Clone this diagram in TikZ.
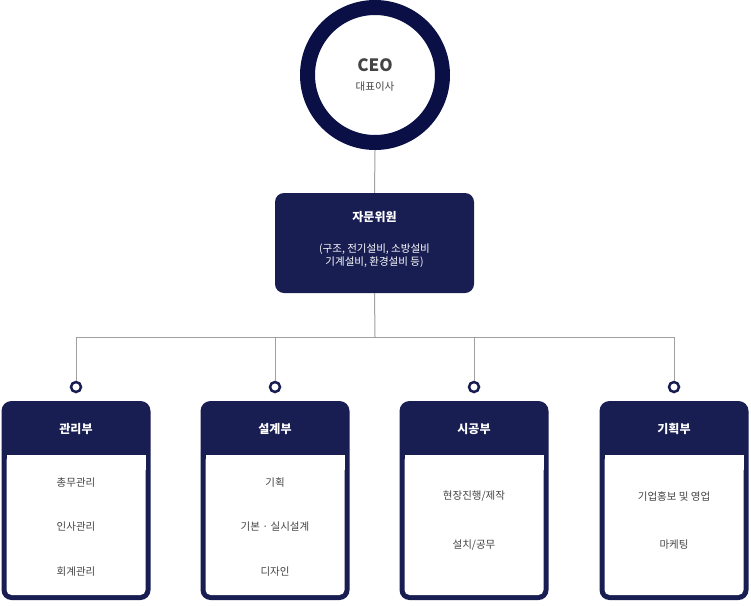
\documentclass[tikz,border=0pt]{standalone}
\usepackage{fontspec}
\setmainfont{Noto Sans CJK KR}
\usetikzlibrary{positioning}
\definecolor{navy}{RGB}{24,29,82}
\definecolor{ringblue}{RGB}{10,15,70}
\definecolor{txtgray}{RGB}{68,68,68}
\definecolor{linegray}{RGB}{160,160,160}
\tikzset{
  conn/.style={draw=linegray, line width=1pt},
  dot/.style={circle, draw=navy, fill=white, line width=2.5pt, minimum size=10pt, inner sep=0pt},
  item/.style={text=txtgray, font=\fontsize{10.5}{12}\selectfont},
  head/.style={text=white, font=\bfseries\fontsize{12}{14}\selectfont}
}
\begin{document}
\begin{tikzpicture}[x=1pt,y=-1pt]
  \useasboundingbox (0,0) rectangle (751,605);
  % CEO
  \draw[ringblue, line width=15pt, fill=white] (375,75) circle (67.5);
  \node (ceo) [circle, minimum size=150pt, inner sep=0pt] at (375,75) {};
  \node [text=txtgray, font=\bfseries\fontsize{17}{18}\selectfont] at (375,65) {CEO};
  \node [text=txtgray, font=\fontsize{10.5}{12}\selectfont] at (375,87) {대표이사};
  % advisors
  \node (adv) [fill=navy, rounded corners=9pt, minimum width=199pt, minimum height=100pt] at (374.5,243) {};
  \node [head] at (374.5,217) {자문위원};
  \node [text=white, font=\fontsize{10.5}{12}\selectfont, align=center] at (374.5,256) {(구조, 전기설비, 소방설비\\[1pt]기계설비, 환경설비 등)};
  \draw[conn] (ceo.south) -- (adv.north);
  \coordinate (bus) at (375,337);
  \draw[conn] (adv.south) -- (bus);
  \draw[conn] (76,337) -- (674,337);
  % departments
  \foreach \x/\name/\title in {76/d1/관리부, 275/d2/설계부, 474/d3/시공부, 674/d4/기획부}{
    \node (\name dot) [dot] at (\x,387) {};
    \draw[conn] (\x,337) -- (\name dot.north);
    \fill[navy, rounded corners=10pt] (\x-74.5,401) rectangle (\x+74.5,600);
    \fill[white, rounded corners=5pt] (\x-69.5,455) rectangle (\x+69.5,595);
    \fill[white] (\x-69.5,455) rectangle (\x+69.5,470);
    \node (\name) [head] at (\x,429) {\title};
  }
  \node [item] at (76,483) {총무관리};
  \node [item] at (76,527) {인사관리};
  \node [item] at (76,572) {회계관리};
  \node [item] at (275,483) {기획};
  \node [item] at (275,527) {기본 · 실시설계};
  \node [item] at (275,572) {디자인};
  \node [item] at (474,496) {현장진행/제작};
  \node [item] at (474,545) {설치/공무};
  \node [item] at (674,496) {기업홍보 및 영업};
  \node [item] at (674,545) {마케팅};
\end{tikzpicture}
\end{document}
